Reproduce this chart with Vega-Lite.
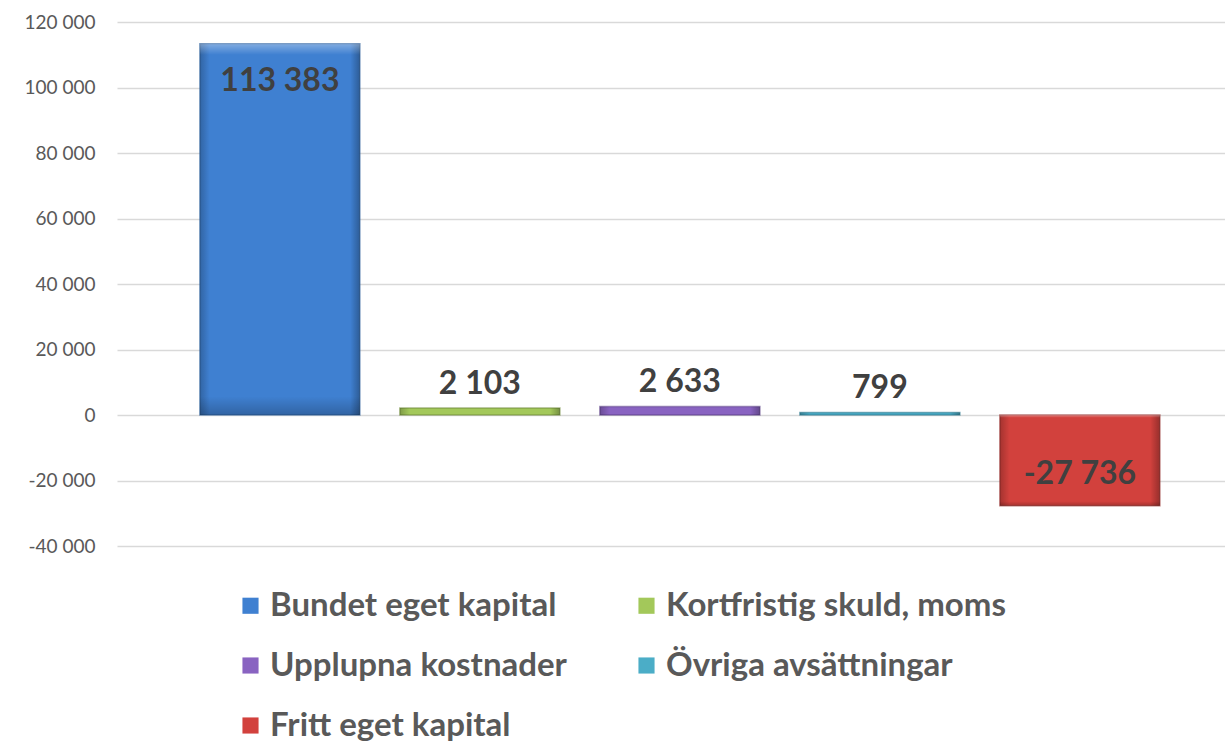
{
  "$schema": "https://vega.github.io/schema/vega-lite/v6.json",
  "width": 1108,
  "height": 524,
  "autosize": {"type": "none"},
  "padding": {"left": 117, "top": 22, "right": 0, "bottom": 198},
  "background": "white",
  "config": {
    "locale": {"number": {"decimal": ",", "thousands": " ", "grouping": [3], "currency": ["", " kr"], "minus": "-"}},
    "view": {"stroke": null},
    "font": "Lato"
  },
  "data": {
    "values": [
      {"post": "Bundet eget kapital", "belopp": 113383},
      {"post": "Kortfristig skuld, moms", "belopp": 2103},
      {"post": "Upplupna kostnader", "belopp": 2633},
      {"post": "Övriga avsättningar", "belopp": 799},
      {"post": "Fritt eget kapital", "belopp": -27736}
    ]
  },
  "encoding": {
    "x": {
      "field": "post", "type": "nominal", "sort": null, "axis": null,
      "scale": {"paddingInner": 0.2, "paddingOuter": 0.37, "align": 0.56}
    },
    "y": {
      "field": "belopp", "type": "quantitative",
      "scale": {"domain": [-40000, 120000], "nice": false, "zero": true},
      "axis": {
        "title": null, "values": [-40000, -20000, 0, 20000, 40000, 60000, 80000, 100000, 120000],
        "format": ",d", "domain": false, "ticks": false,
        "gridColor": "#d9d9d9", "gridWidth": 1.3,
        "labelFont": "Lato", "labelFontSize": 19, "labelColor": "#595959", "labelPadding": 22
      }
    }
  },
  "layer": [
    {
      "mark": {"type": "bar", "strokeWidth": 1.5, "strokeOpacity": 0.6},
      "encoding": {
        "color": {
          "field": "post", "type": "nominal",
          "scale": {
            "domain": ["Bundet eget kapital", "Upplupna kostnader", "Fritt eget kapital", "Kortfristig skuld, moms", "Övriga avsättningar"],
            "range": ["#3f80d1", "#8963c1", "#d2413d", "#a3c85a", "#4badc7"]
          },
          "legend": {
            "title": null, "orient": "none", "legendX": 117, "legendY": 567,
            "columns": 2, "columnPadding": 63, "rowPadding": 26,
            "symbolType": "square", "symbolSize": 260, "symbolStrokeWidth": 0,
            "labelFont": "Lato", "labelFontSize": 33, "labelFontWeight": "bold",
            "labelColor": "#595959", "labelOffset": 3, "labelLimit": 600
          }
        },
        "stroke": {
          "field": "post", "type": "nominal", "legend": null,
          "scale": {
            "domain": ["Bundet eget kapital", "Upplupna kostnader", "Fritt eget kapital", "Kortfristig skuld, moms", "Övriga avsättningar"],
            "range": ["#2c5d99", "#5b3f85", "#932b28", "#6f8a3a", "#2f7c91"]
          }
        }
      }
    },
    {
      "mark": {
        "type": "bar",
        "fill": {"gradient": "linear", "x1": 0, "y1": 0, "x2": 1, "y2": 0,
          "stops": [
            {"offset": 0, "color": "rgba(0,0,0,0.22)"},
            {"offset": 0.06, "color": "rgba(0,0,0,0)"},
            {"offset": 0.94, "color": "rgba(0,0,0,0)"},
            {"offset": 1, "color": "rgba(0,0,0,0.28)"}
          ]}
      },
      "encoding": {}
    },
    {
      "mark": {
        "type": "bar",
        "fill": {"gradient": "linear", "x1": 0, "y1": 0, "x2": 0, "y2": 1,
          "stops": [
            {"offset": 0, "color": "rgba(255,255,255,0.35)"},
            {"offset": 0.03, "color": "rgba(255,255,255,0)"},
            {"offset": 0.95, "color": "rgba(0,0,0,0)"},
            {"offset": 1, "color": "rgba(0,0,0,0.22)"}
          ]}
      },
      "encoding": {}
    },
    {
      "transform": [{"filter": "datum.belopp > 10000"}],
      "mark": {"type": "text", "baseline": "top", "dy": 22, "fontSize": 32, "fontWeight": "bold", "color": "#404040", "font": "Lato"},
      "encoding": {"text": {"field": "belopp", "type": "quantitative", "format": ",d"}}
    },
    {
      "transform": [{"filter": "datum.belopp < -10000"}],
      "mark": {"type": "text", "baseline": "bottom", "dy": -15, "fontSize": 32, "fontWeight": "bold", "color": "#404040", "font": "Lato"},
      "encoding": {"text": {"field": "belopp", "type": "quantitative", "format": ",d"}}
    },
    {
      "transform": [{"filter": "abs(datum.belopp) <= 10000"}],
      "mark": {"type": "text", "baseline": "bottom", "dy": -7, "fontSize": 32, "fontWeight": "bold", "color": "#404040", "font": "Lato"},
      "encoding": {"text": {"field": "belopp", "type": "quantitative", "format": ",d"}}
    }
  ]
}
